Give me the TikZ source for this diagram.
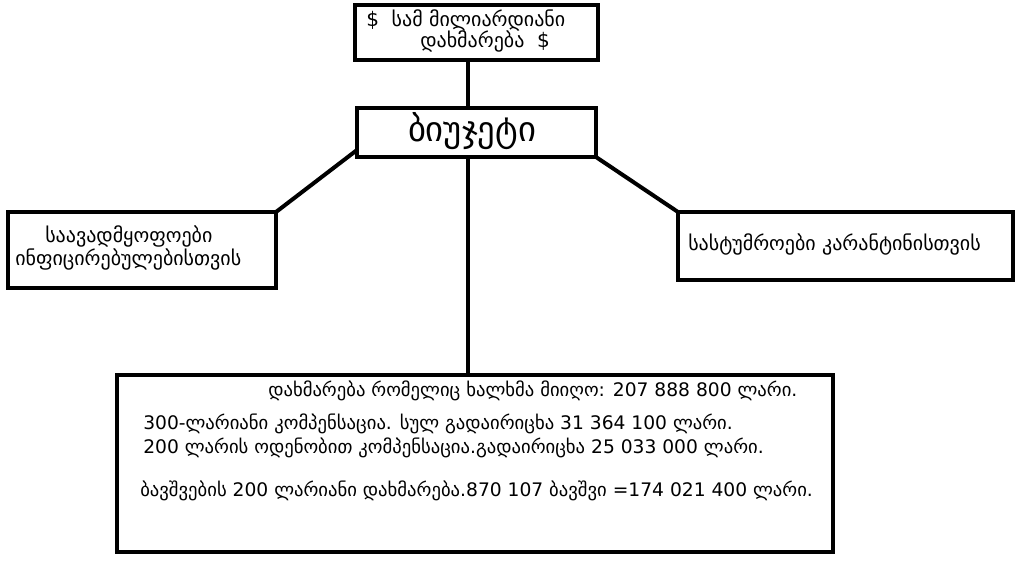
\documentclass[tikz,border=0pt]{standalone}
\usepackage{fontspec}
\setmainfont{DejaVu Sans}
\begin{document}
\begin{tikzpicture}[x=0.75pt,y=-0.75pt,
  box/.style={draw,line width=3pt},
  conn/.style={line width=3pt},
  txt/.style={font=\fontsize{14}{16}\selectfont,anchor=west,inner sep=0},
  sml/.style={font=\fontsize{15}{17}\selectfont,anchor=west,inner sep=0}]
\useasboundingbox (0,0) rectangle (1024,576);
\draw[box] (355,5) rectangle (598,60);
\draw[box] (357,108) rectangle (596,157);
\draw[box] (8,212) rectangle (276,288);
\draw[box] (678,212) rectangle (1013,280);
\draw[box] (117,375) rectangle (833,552);
\coordinate (t1) at (468,60); \coordinate (b1) at (468,108);
\coordinate (b2) at (468,157); \coordinate (d1) at (468,375);
\coordinate (bl) at (357,150); \coordinate (lr) at (276,212);
\coordinate (br) at (596,157); \coordinate (rl) at (678,212);
\draw[conn] (t1) -- (b1);
\draw[conn] (b2) -- (d1);
\draw[conn] (bl) -- (lr);
\draw[conn] (br) -- (rl);
\node[sml] (a) at (366,20) {\$\ \ სამ მილიარდიანი};
\node[sml] (b) at (420,41) {დახმარება\ \ \$};
\node[font=\fontsize{26}{28}\selectfont] (c) at (472,131) {ბიუჯეტი};
\node[sml] (d) at (45,236) {საავადმყოფოები};
\node[sml] (e) at (15,259) {ინფიცირებულებისთვის};
\node[sml] (f) at (688,244) {სასტუმროები კარანტინისთვის};
\node[txt] (g) at (268,391) {დახმარება რომელიც ხალხმა მიიღო: 207 888 800 ლარი.};
\node[txt] (h) at (143,424) {300-ლარიანი კომპენსაცია. სულ გადაირიცხა 31 364 100 ლარი.};
\node[txt] (i) at (143,448) {200 ლარის ოდენობით კომპენსაცია.გადაირიცხა 25 033 000 ლარი.};
\node[txt] (j) at (140,491) {ბავშვების 200 ლარიანი დახმარება.870 107 ბავშვი =174 021 400 ლარი.};
\end{tikzpicture}
\end{document}
